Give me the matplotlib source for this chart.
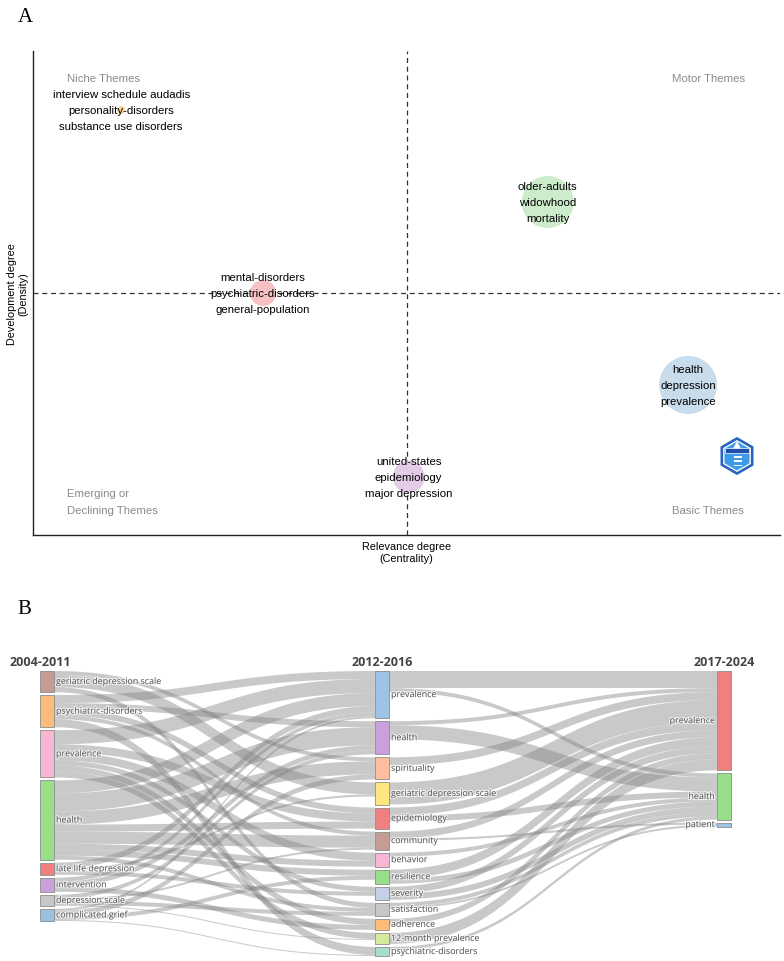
import matplotlib
matplotlib.use("Agg")
import matplotlib.pyplot as plt
import matplotlib.patheffects as pe
import numpy as np
from matplotlib.patches import Polygon, Rectangle, RegularPolygon

# ---- panel A: thematic map ----
THEME_LABELS = [
    ["interview schedule audadis", "personality-disorders", "substance use disorders"],
    ["older-adults", "widowhood", "mortality"],
    ["mental-disorders", "psychiatric-disorders", "general-population"],
    ["health", "depression", "prevalence"],
    ["united-states", "epidemiology", "major depression"],
]
CENTRALITY = [0.118, 0.689, 0.308, 0.877, 0.503]
DENSITY = [0.878, 0.688, 0.500, 0.310, 0.120]
BUBBLE_SIZE = [33, 1400, 350, 1745, 530]
BUBBLE_COLORS = ["#fbd59a", "#cdeccb", "#f7c1c4", "#c9dcec", "#e3cde6"]

# ---- panel B: thematic evolution ----
PERIODS = ["2004-2011", "2012-2016", "2017-2024"]
NODES_0 = ["geriatric depression scale", "psychiatric-disorders", "prevalence", "health",
           "late life depression", "intervention", "depression scale", "complicated grief"]
NODES_1 = ["prevalence", "health", "spirituality", "geriatric depression scale", "epidemiology",
           "community", "behavior", "resilience", "severity", "satisfaction", "adherence",
           "12-month prevalence", "psychiatric-disorders"]
NODES_2 = ["prevalence", "health", "patient"]
COLORS_0 = ["#c49c94", "#ffbb78", "#f7b6d2", "#98df8a", "#f08080", "#c9a0dc", "#c7c7c7", "#9ec0e0"]
COLORS_1 = ["#9dc3e6", "#c9a0dc", "#ffbf9f", "#ffe680", "#f08080", "#c49c94", "#f7b6d2",
            "#98df8a", "#c6cfe8", "#c7c7c7", "#ffbb78", "#d4eb9c", "#a8dcd1"]
COLORS_2 = ["#f08080", "#98df8a", "#9dc3e6"]
# rows: NODES_0, cols: NODES_1
FLOW_01 = [
    [0, 0, 4, 12, 0, 0, 0, 0, 0, 5, 0, 0, 0],
    [8, 6, 0, 0, 6, 4, 0, 0, 0, 0, 0, 0, 8],
    [14, 0, 0, 0, 8, 0, 8, 0, 5, 0, 6, 6, 0],
    [13, 18, 13, 0, 7, 12, 6, 6, 0, 4, 0, 0, 0],
    [6, 0, 0, 2, 0, 0, 0, 0, 4, 0, 0, 0, 0],
    [4, 5, 0, 0, 0, 0, 0, 0, 0, 0, 5, 0, 0],
    [0, 4, 0, 0, 0, 2, 0, 0, 0, 4, 0, 1, 0],
    [2, 0, 5, 0, 0, 0, 0, 4, 0, 0, 0, 0, 1],
]
# rows: NODES_1, cols: NODES_2
FLOW_12 = [
    [17, 4, 0],
    [4, 14, 0],
    [8, 0, 0],
    [22, 0, 0],
    [8, 6, 0],
    [7, 0, 2],
    [0, 4, 0],
    [9, 5, 0],
    [7, 6, 0],
    [0, 4, 2],
    [6, 0, 0],
    [11, 0, 0],
    [0, 3, 0],
]

W, H = 784, 962
SANS = "Liberation Sans"


def draw_thematic_map(fig):
    ax = fig.add_axes([33 / W, 1 - 536 / H, 747 / W, 484 / H])
    ax.set_xlim(0, 1)
    ax.set_ylim(0, 1)
    for side in ["top", "right"]:
        ax.spines[side].set_visible(False)
    for side in ["left", "bottom"]:
        ax.spines[side].set_linewidth(1.0)
        ax.spines[side].set_color("#222222")
    ax.set_xticks([])
    ax.set_yticks([])
    ax.axvline(0.5, color="#333333", lw=0.9, dashes=(4, 3))
    ax.axhline(0.5, color="#333333", lw=0.9, dashes=(4, 3))

    ax.scatter(CENTRALITY, DENSITY, s=BUBBLE_SIZE, c=BUBBLE_COLORS, edgecolors="none", zorder=2)
    for x, y, words in zip(CENTRALITY, DENSITY, THEME_LABELS):
        ax.text(x, y, "\n".join(words), ha="center", va="center", family=SANS,
                fontsize=8.2, linespacing=1.8, color="black", zorder=3)

    grey = "#8a8a8a"
    ax.text(0.095, 0.944, "Niche Themes", ha="center", va="center", color=grey, family=SANS, fontsize=8.2)
    ax.text(0.904, 0.944, "Motor Themes", ha="center", va="center", color=grey, family=SANS, fontsize=8.2)
    ax.text(0.0455, 0.069, "Emerging or\nDeclining Themes", ha="left", va="center", color=grey,
            family=SANS, fontsize=8.2, linespacing=1.8)
    ax.text(0.904, 0.052, "Basic Themes", ha="center", va="center", color=grey, family=SANS, fontsize=8.2)

    ax.text(0.5, -0.035, "Relevance degree\n(Centrality)", transform=ax.transAxes, ha="center", va="center",
            family=SANS, fontsize=7.8, linespacing=1.2)
    ax.text(-0.021, 0.5, "Development degree\n(Density)", transform=ax.transAxes, ha="center", va="center",
            rotation=90, family=SANS, fontsize=7.8, linespacing=1.2)

    # bibliometrix badge
    lg = fig.add_axes([717 / W, 1 - 478 / H, 40 / W, 42 / H])
    lg.set_xlim(-1.05, 1.05)
    lg.set_ylim(-1.1, 1.1)
    lg.set_aspect("equal")
    lg.axis("off")
    lg.add_patch(RegularPolygon((0, 0), 6, radius=1.0, orientation=0, facecolor="#2a62bf", edgecolor="none"))
    lg.add_patch(RegularPolygon((0, 0), 6, radius=0.84, orientation=0, facecolor="#ffffff", edgecolor="none"))
    lg.add_patch(RegularPolygon((0, 0), 6, radius=0.76, orientation=0, facecolor="#3d9be9", edgecolor="none"))
    lg.add_patch(Rectangle((-0.62, 0.18), 1.24, 0.22, facecolor="#1f4fa8", edgecolor="white", lw=0.5))
    lg.add_patch(Polygon([(0, 0.78), (-0.2, 0.4), (0.2, 0.4)], closed=True, facecolor="white", edgecolor="none"))
    for k in range(3):
        lg.add_patch(Rectangle((-0.15, -0.55 + k * 0.22), 0.4, 0.1, facecolor="white", edgecolor="none"))


def bezier_band(x0, x1, y0a, y0b, y1a, y1b, n=60):
    t = np.linspace(0, 1, n)
    xm = (x0 + x1) / 2
    bx = (1 - t) ** 3 * x0 + 3 * (1 - t) ** 2 * t * xm + 3 * (1 - t) * t ** 2 * xm + t ** 3 * x1
    top = (1 - t) ** 3 * y0a + 3 * (1 - t) ** 2 * t * y0a + 3 * (1 - t) * t ** 2 * y1a + t ** 3 * y1a
    bot = (1 - t) ** 3 * y0b + 3 * (1 - t) ** 2 * t * y0b + 3 * (1 - t) * t ** 2 * y1b + t ** 3 * y1b
    return np.column_stack([np.r_[bx, bx[::-1]], np.r_[top, bot[::-1]]])


def draw_sankey(fig):
    ax = fig.add_axes([0, 0, 1, 340 / H])
    ax.set_xlim(0, W)
    ax.set_ylim(H, H - 340)
    ax.axis("off")

    f01 = np.array(FLOW_01, dtype=float)
    f12 = np.array(FLOW_12, dtype=float)
    sizes = [
        f01.sum(axis=1),
        np.maximum(f01.sum(axis=0), f12.sum(axis=1)),
        f12.sum(axis=0),
    ]
    names = [NODES_0, NODES_1, NODES_2]
    colors = [COLORS_0, COLORS_1, COLORS_2]
    col_x = [40, 375, 717]
    node_w = 14
    top, bottom, pad = 672, 957, 3
    ky = min((bottom - top - pad * (len(s) - 1)) / s.sum() for s in sizes)

    y_top = []
    for s in sizes:
        ys = top + np.r_[0, np.cumsum(s * ky + pad)[:-1]]
        y_top.append(ys)

    link_kw = dict(facecolor="#808080", alpha=0.42, edgecolor="none", zorder=1)
    for c, flows in enumerate([f01, f12]):
        n_src, n_tgt = flows.shape
        out_off = np.zeros(n_src)
        in_off = np.zeros(n_tgt)
        # offsets at source ordered by target position, at target by source position
        src_pos = {}
        for i in range(n_src):
            for j in range(n_tgt):
                if flows[i, j] > 0:
                    src_pos[(i, j)] = y_top[c][i] + out_off[i]
                    out_off[i] += flows[i, j] * ky
        tgt_pos = {}
        for j in range(n_tgt):
            for i in range(n_src):
                if flows[i, j] > 0:
                    tgt_pos[(i, j)] = y_top[c + 1][j] + in_off[j]
                    in_off[j] += flows[i, j] * ky
        x0 = col_x[c] + node_w
        x1 = col_x[c + 1]
        for (i, j), ya in src_pos.items():
            h = flows[i, j] * ky
            yb = tgt_pos[(i, j)]
            ax.add_patch(Polygon(bezier_band(x0, x1, ya, ya + h, yb, yb + h), closed=True, **link_kw))

    stroke = [pe.withStroke(linewidth=1.6, foreground="white", alpha=0.7)]
    for c in range(3):
        for k, name in enumerate(names[c]):
            y0 = y_top[c][k]
            h = max(sizes[c][k] * ky, 1.5)
            ax.add_patch(Rectangle((col_x[c], y0), node_w, h, facecolor=colors[c][k],
                                   edgecolor="#8c8c8c", lw=0.6, zorder=3))
            if c < 2:
                ax.text(col_x[c] + node_w + 2, y0 + h / 2, name, ha="left", va="center",
                        family="Open Sans", fontsize=6.4, color="#555555", zorder=4, path_effects=stroke)
            else:
                ax.text(col_x[c] - 2, y0 + h / 2, name, ha="right", va="center",
                        family="Open Sans", fontsize=6.4, color="#555555", zorder=4, path_effects=stroke)
        hx = col_x[c] + node_w / 2 if c > 0 else col_x[c]
        ax.text(hx, 663, PERIODS[c], ha="center", va="center", family="Open Sans",
                fontweight="bold", fontsize=9, color="#444444")


def main():
    fig = plt.figure(figsize=(W / 100, H / 100), dpi=100)
    fig.patch.set_facecolor("white")
    draw_thematic_map(fig)
    draw_sankey(fig)
    fig.text(25 / W, 1 - 17 / H, "A", family="Liberation Serif", fontsize=15, ha="center", va="center")
    fig.text(24 / W, 1 - 609 / H, "B", family="Liberation Serif", fontsize=15, ha="center", va="center")
    fig.savefig("out.png", dpi=100, facecolor="white")


if __name__ == "__main__":
    main()
